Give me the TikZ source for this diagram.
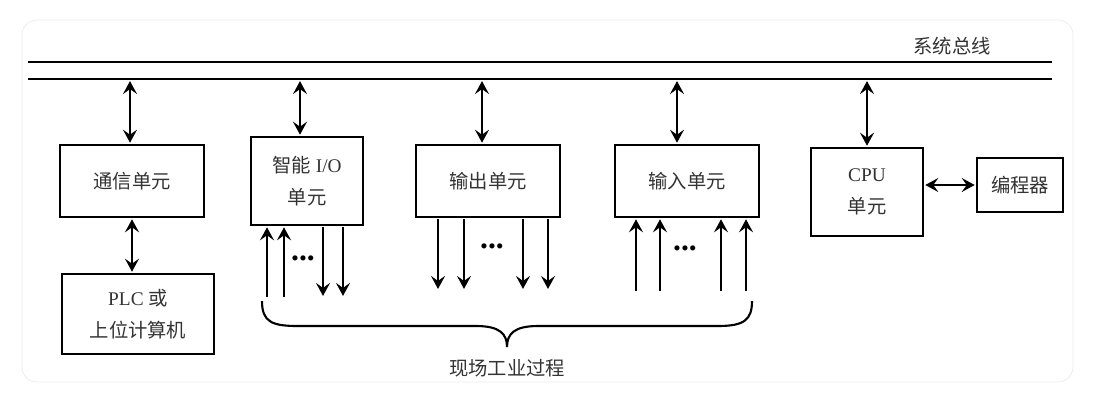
\documentclass[tikz,border=0pt]{standalone}
\usepackage{fontspec}
\setmainfont{Liberation Serif}
\newfontfamily\cjk{Noto Sans CJK SC}
\usetikzlibrary{arrows.meta}
\tikzset{unit/.style={draw,line width=1.4pt,fill=white,inner sep=0pt,align=center,
                      text=black!80,font=\fontsize{11}{18}\selectfont},
         bus/.style={line width=1.3pt},
         link/.style={line width=1.2pt,shorten <=0.6pt,shorten >=0.6pt},
         >={Stealth[length=2.6mm,width=2.8mm,inset=1mm]},
         dots/.style={anchor=base,font=\fontsize{18}{18}\selectfont\bfseries},
         label text/.style={text=black!80,font=\fontsize{11}{18}\selectfont\cjk},
        }

\begin{document}
\begin{tikzpicture}[x=0.02cm,y=-0.02cm]
        \useasboundingbox(0,0)rectangle(1101,403);
        \draw[black!8,rounded corners=0.3cm](22,20)rectangle(1073,382);

        % system bus
        \draw[bus](28,62)--(1052,62);
        \draw[bus](28,79)--(1052,79);
        \node[label text](xtzx)at(952,46){系统总线};

        \node[unit,minimum width=2.88cm,minimum height=1.44cm](txdy)at(132,181){{\cjk 通信单元}};
        \node[unit,minimum width=3.04cm,minimum height=1.6cm](plc)at(138,314){PLC {\cjk 或}\\{\cjk 上位计算机}};
        \node[unit,minimum width=2.24cm,minimum height=1.76cm](znio)at(307,181){{\cjk 智能} I/O\\{\cjk 单元}};
        \node[unit,minimum width=2.88cm,minimum height=1.44cm](scdy)at(488,181){{\cjk 输出单元}};
        \node[unit,minimum width=2.88cm,minimum height=1.44cm](srdy)at(687,181){{\cjk 输入单元}};
        \node[unit,minimum width=2.24cm,minimum height=1.76cm](cpu)at(867,192){CPU\\{\cjk 单元}};
        \node[unit,minimum width=1.72cm,minimum height=1.08cm](bcq)at(1020,185){{\cjk 编程器}};

        \coordinate(b1)at(130,80);
        \coordinate(b2)at(300,80);
        \coordinate(b3)at(482,80);
        \coordinate(b4)at(677,80);
        \coordinate(b5)at(867,80);
        \draw[link,<->](b1)--(b1|-txdy.north);
        \draw[link,<->](b2)--(b2|-znio.north);
        \draw[link,<->](b3)--(b3|-scdy.north);
        \draw[link,<->](b4)--(b4|-srdy.north);
        \draw[link,<->](b5)--(b5|-cpu.north);
        \draw[link,<->](txdy.south)--(txdy.south|-plc.north);
        \draw[link,<->](cpu.east|-bcq.west)--(bcq.west);

        % field lines of the intelligent I/O unit
        \coordinate(zi1)at(267,298);
        \coordinate(zi2)at(284,298);
        \coordinate(zo1)at(323,297);
        \coordinate(zo2)at(343,297);
        \draw[link,->](zi1)--(zi1|-znio.south);
        \draw[link,->](zi2)--(zi2|-znio.south);
        \draw[link,->](zo1|-znio.south)--(zo1);
        \draw[link,->](zo2|-znio.south)--(zo2);
        \node[dots](zdots)at(303,260){...};

        % output lines
        \coordinate(so1)at(438,290);
        \coordinate(so2)at(464,290);
        \coordinate(so3)at(523,290);
        \coordinate(so4)at(548,290);
        \draw[link,->](so1|-scdy.south)--(so1);
        \draw[link,->](so2|-scdy.south)--(so2);
        \draw[link,->](so3|-scdy.south)--(so3);
        \draw[link,->](so4|-scdy.south)--(so4);
        \node[dots](sdots)at(492,248){...};

        % input lines
        \coordinate(ri1)at(636,292);
        \coordinate(ri2)at(660,292);
        \coordinate(ri3)at(721,292);
        \coordinate(ri4)at(746,292);
        \draw[link,->](ri1)--(ri1|-srdy.south);
        \draw[link,->](ri2)--(ri2|-srdy.south);
        \draw[link,->](ri3)--(ri3|-srdy.south);
        \draw[link,->](ri4)--(ri4|-srdy.south);
        \node[dots](rdots)at(685,250){...};

        % brace
        \draw[link](262,300)..controls(262,322)and(272,326)..(298,326)--(476,326)
            ..controls(500,326)and(507,334)..(507,347)
            ..controls(507,334)and(514,326)..(538,326)--(718,326)
            ..controls(744,326)and(752,320)..(752,300);
        \node[label text](xcgy)at(507,368){现场工业过程};
    \end{tikzpicture}
\end{document}
